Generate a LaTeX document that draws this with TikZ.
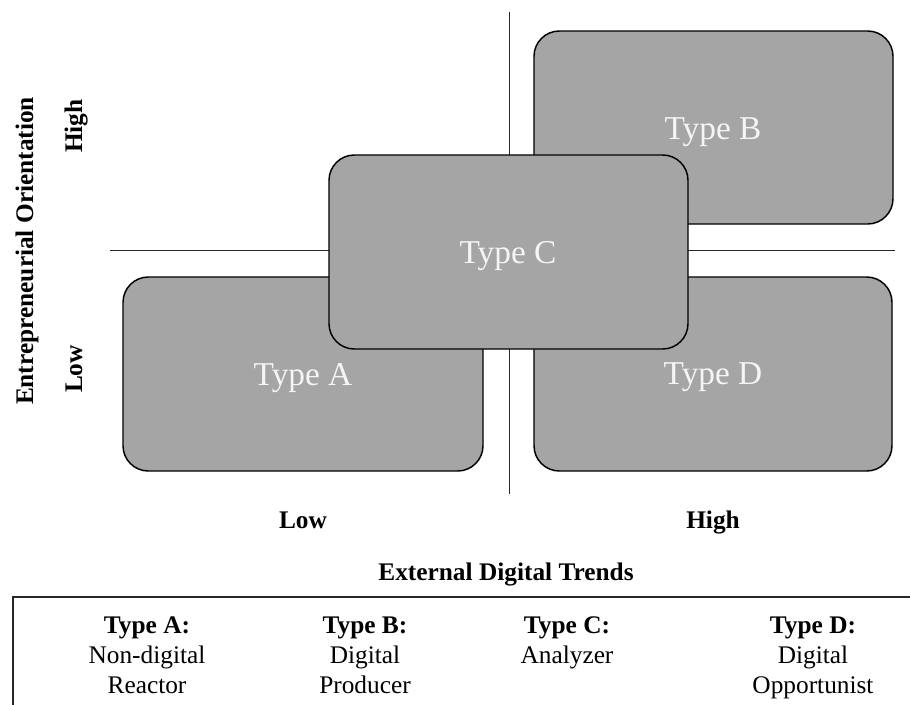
\documentclass[tikz,border=0pt]{standalone}
\usepackage{fontspec}
\setmainfont{Liberation Serif}
\definecolor{boxfill}{RGB}{165,165,165}
\definecolor{boxtext}{RGB}{245,245,245}
\definecolor{axisline}{RGB}{40,40,40}
\begin{document}
\begin{tikzpicture}[x=0.75pt,y=-0.75pt,
  typebox/.style={draw=black,fill=boxfill,line width=1.1pt,rounded corners=19pt},
  typelabel/.style={text=boxtext,font=\fontsize{25}{30}\selectfont,inner sep=0pt,anchor=base},
  axislabel/.style={font=\fontsize{19}{22}\selectfont\bfseries,inner sep=0pt,anchor=base},
  legendhead/.style={font=\fontsize{19}{22}\selectfont\bfseries,inner sep=0pt,anchor=base},
  legendline/.style={font=\fontsize{19}{22}\selectfont,inner sep=0pt,anchor=base},
  divider/.style={draw=axisline,line width=0.75pt}]
\useasboundingbox (0,0) rectangle (910,704);

% quadrant dividers
\coordinate (vtop) at (509,12);
\coordinate (vbot) at (509,494);
\coordinate (hleft) at (110,250);
\coordinate (hright) at (895,250);
\draw[divider] (vtop) -- (vbot);
\draw[divider] (hleft) -- (hright);

% the four types
\draw[typebox] (123,277) rectangle (483,471);
\node[typelabel] (ta) at (303,385) {Type A};
\draw[typebox] (534,31) rectangle (893,224);
\node[typelabel] (tb) at (713,139) {Type B};
\draw[typebox] (534,277) rectangle (892,471);
\node[typelabel] (td) at (713,384) {Type D};
\draw[typebox] (329,155) rectangle (688,349);
\node[typelabel] (tc) at (508,263) {Type C};

% axis labels
\node[axislabel,rotate=90] (eo) at (33,251) {Entrepreneurial Orientation};
\node[axislabel,rotate=90] (yhigh) at (82,126) {High};
\node[axislabel,rotate=90] (ylow) at (82,369) {Low};
\node[axislabel] (xlow) at (303,528) {Low};
\node[axislabel] (xhigh) at (713,528) {High};
\node[axislabel] (edt) at (506,580) {External Digital Trends};

% legend frame, running off the right and bottom edges
\coordinate (lbl) at (13,710);
\coordinate (ltl) at (13,597);
\coordinate (ltr) at (915,597);
\draw[line width=1.1pt,draw=axisline] (lbl) -- (ltl) -- (ltr);

\node[legendhead] (la) at (147,633) {Type A:};
\node[legendline] (la1) at (147,663) {Non-digital};
\node[legendline] (la2) at (147,693) {Reactor};
\node[legendhead] (lb) at (365,633) {Type B:};
\node[legendline] (lb1) at (365,663) {Digital};
\node[legendline] (lb2) at (365,693) {Producer};
\node[legendhead] (lc) at (567,633) {Type C:};
\node[legendline] (lc1) at (567,663) {Analyzer};
\node[legendhead] (ld) at (813,633) {Type D:};
\node[legendline] (ld1) at (813,663) {Digital};
\node[legendline] (ld2) at (813,693) {Opportunist};
\end{tikzpicture}
\end{document}
